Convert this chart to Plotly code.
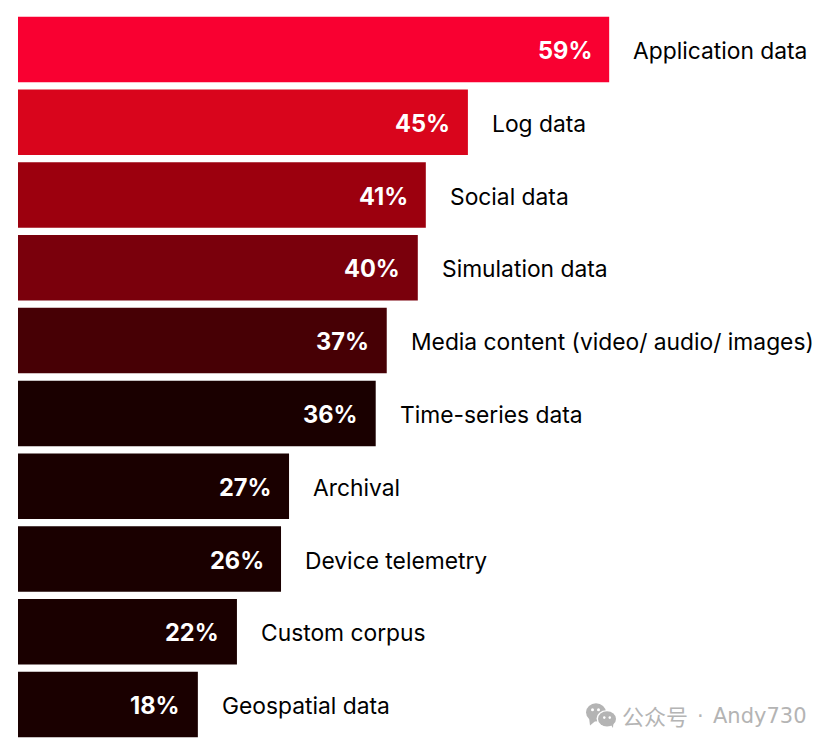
import plotly.graph_objects as go

categories = ["Application data", "Log data", "Social data", "Simulation data",
              "Media content (video/ audio/ images)", "Time-series data", "Archival",
              "Device telemetry", "Custom corpus", "Geospatial data"]
bar_lengths = [59.0, 44.9, 40.7, 39.9, 36.8, 35.7, 27.05, 26.25, 21.85, 17.95]
value_labels = ["59%", "45%", "41%", "40%", "37%", "36%", "27%", "26%", "22%", "18%"]
colors = ["#F90031", "#D9051C", "#9C000E", "#7A000C", "#470005",
          "#1A0000", "#1A0000", "#1A0000", "#1A0000", "#1A0000"]

OFF = 8  # page offset of the figure
W, H = 824, 740
L, T, B = 10, 5.4, 7.4
PW, PH = W - L, H - T - B
XMAX = PW / 10.02


def px(x):
    return (x - OFF - L) / PW


def py(y):
    return (H - B - (y - OFF)) / PH


fig = go.Figure(go.Bar(
    y=categories, x=bar_lengths, orientation="h", width=0.9,
    marker=dict(color=colors, line=dict(width=0)),
    hoverinfo="skip",
))

ann = []
for c, v, t in zip(categories, bar_lengths, value_labels):
    ann.append(dict(x=v, y=c, xref="x", yref="y", text=f"<b>{t}</b>", showarrow=False,
                    xanchor="right", xshift=-15.5, yshift=-1,
                    font=dict(family="Inter", size=23.6, color="#ffffff")))
    ann.append(dict(x=v, y=c, xref="x", yref="y", text=c, showarrow=False,
                    xanchor="left", xshift=22.3, yshift=-1,
                    font=dict(family="Inter", size=22.8, color="#000000")))

ann.append(dict(x=px(620), y=py(714.5), xref="paper", yref="paper", text="公众号",
                showarrow=False, xanchor="left", yanchor="middle",
                font=dict(family="Noto Sans CJK SC", size=22, color="#B4B4B4")))
ann.append(dict(x=px(695), y=py(715.5), xref="paper", yref="paper", text="·",
                showarrow=False, xanchor="left", yanchor="middle",
                font=dict(family="DejaVu Sans", size=21, color="#B4B4B4")))
ann.append(dict(x=px(711), y=py(715.5), xref="paper", yref="paper", text="Andy730",
                showarrow=False, xanchor="left", yanchor="middle",
                font=dict(family="DejaVu Sans", size=21, color="#B4B4B4")))


def circle(x0, y0, x1, y1, col):
    return dict(type="circle", xref="paper", yref="paper", x0=px(x0), x1=px(x1),
                y0=py(y0), y1=py(y1), fillcolor=col, line=dict(width=0), layer="above")


def tri(p, col):
    path = "M " + " L ".join(f"{px(a):.5f},{py(b):.5f}" for a, b in p) + " Z"
    return dict(type="path", xref="paper", yref="paper", path=path, fillcolor=col,
                line=dict(width=0), layer="above")


G = "#B4B4B4"
shapes = [
    circle(586, 703, 606, 721, G),
    tri([(589, 717), (590, 725), (596, 720)], G),
    circle(596.5, 710, 616.5, 726, "#ffffff"),
    circle(598, 711, 616, 726, G),
    tri([(610, 723), (613, 727.5), (613.5, 721)], G),
    circle(591, 708, 594, 711, "#ffffff"),
    circle(597, 708, 600, 711, "#ffffff"),
    circle(603, 716, 605.5, 718.5, "#ffffff"),
    circle(608.5, 716, 611, 718.5, "#ffffff"),
]

fig.update_layout(
    width=W, height=H, autosize=False,
    margin=dict(l=L, r=0, t=T, b=B, pad=0),
    paper_bgcolor="#ffffff", plot_bgcolor="#ffffff",
    showlegend=False,
    xaxis=dict(range=[0, XMAX], visible=False, fixedrange=True),
    yaxis=dict(autorange="reversed", visible=False, fixedrange=True),
    annotations=ann, shapes=shapes,
)
fig.write_html("out.html", config={"displayModeBar": False})
